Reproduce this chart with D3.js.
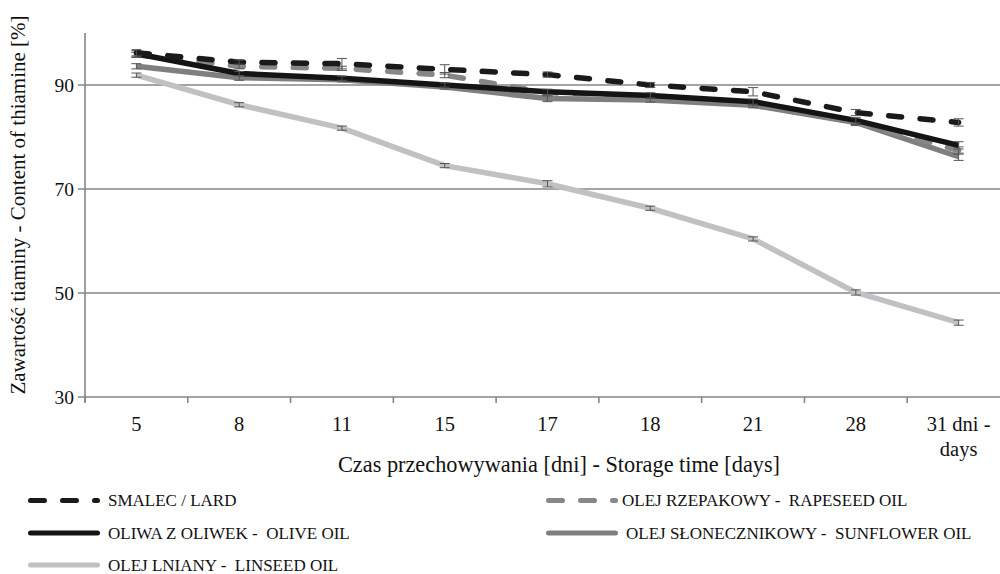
<!DOCTYPE html>
<html><head><meta charset="utf-8">
<script src="https://cdn.jsdelivr.net/npm/d3@7"></script>
<style>
body{margin:0;background:#fff;}
text{font-family:'Liberation Serif','DejaVu Serif',serif;white-space:pre;}
</style></head><body>
<svg id="c" width="1000" height="574"></svg>
<script>
const categories = ["5","8","11","15","17","18","21","28","31 dni -|days"];
const yTicks = [30,50,70,90];
const lard      = [96.2,94.4,94.1,93.0,92.0,90.0,88.7,84.7,82.8];
const lardErr   = [0.6,0.4,1.0,0.9,0.5,0.5,0.8,0.6,0.7];
const rapeseed  = [95.8,93.6,93.2,91.9,88.5,87.9,86.6,82.9,77.4];
const rapeErr   = [0.5,0.5,0.4,0.5,0.6,0.5,0.6,0.5,0.7];
const olive     = [96.0,92.2,91.3,90.0,88.7,88.0,86.8,83.2,78.4];
const oliveErr  = [0.6,0.4,0.4,0.4,0.5,0.5,0.5,0.5,0.7];
const sunflower = [93.6,91.4,91.0,89.6,87.4,87.1,86.1,82.8,76.2];
const sunErr    = [0.5,0.5,0.4,0.4,0.6,0.4,0.5,0.6,0.7];
const linseed   = [91.9,86.2,81.7,74.5,71.0,66.3,60.4,50.1,44.3];
const linErr    = [0.4,0.4,0.4,0.4,0.6,0.4,0.4,0.5,0.5];
const seriesNames = ["SMALEC / LARD","OLEJ RZEPAKOWY -  RAPESEED OIL","OLIWA Z OLIWEK -  OLIVE OIL","OLEJ SŁONECZNIKOWY -  SUNFLOWER OIL","OLEJ LNIANY -  LINSEED OIL"];

const series = [
  {name:seriesNames[4], v:linseed,  e:linErr,   color:"#c1c1c5", dash:null},
  {name:seriesNames[3], v:sunflower,e:sunErr,   color:"#7f7f7f", dash:null},
  {name:seriesNames[1], v:rapeseed, e:rapeErr,  color:"#878787", dash:"13,18.5"},
  {name:seriesNames[2], v:olive,    e:oliveErr, color:"#141414", dash:null},
  {name:seriesNames[0], v:lard,     e:lardErr,  color:"#1a1a1a", dash:"13,18.5"}
];

const svg = d3.select("#c");
const FONT = "'Liberation Serif','DejaVu Serif',serif";
const x = d3.scaleBand().domain(categories).range([85,1010]);
const y = d3.scaleLinear().domain([30,100]).range([397,33]);
const gridColor = "#868686";

svg.append("g").selectAll("line").data(yTicks).join("line")
  .attr("x1",78).attr("x2",1000).attr("y1",d=>y(d)).attr("y2",d=>y(d))
  .attr("stroke",gridColor).attr("stroke-width",1.6);
svg.append("line").attr("x1",85).attr("x2",85).attr("y1",y(100)).attr("y2",402)
  .attr("stroke",gridColor).attr("stroke-width",1.6);
const bounds = categories.map(c=>x(c)).concat([x(categories[categories.length-1])+x.bandwidth()]);
svg.append("g").selectAll("line").data(bounds).join("line")
  .attr("x1",d=>d).attr("x2",d=>d).attr("y1",397).attr("y2",403)
  .attr("stroke",gridColor).attr("stroke-width",1.6);

svg.append("g").selectAll("text").data(yTicks).join("text")
  .attr("font-family",FONT)
  .attr("x",74).attr("y",d=>y(d)).attr("dy","0.35em").attr("text-anchor","end")
  .attr("font-size",19.5).attr("fill","#111").text(d=>d);
const xl = svg.append("g").selectAll("text").data(categories).join("text")
  .attr("font-family",FONT)
  .attr("x",d=>x(d)+x.bandwidth()/2).attr("y",431).attr("text-anchor","middle")
  .attr("font-size",20.5).attr("fill","#111");
xl.each(function(d){
  const parts = d.split("|");
  const t = d3.select(this);
  parts.forEach((p,i)=>t.append("tspan").attr("x",x(d)+x.bandwidth()/2).attr("dy",i?"1.2em":0).text(p));
});

svg.append("text").attr("font-family",FONT).attr("x",559).attr("y",472).attr("text-anchor","middle")
  .attr("font-size",22.3).attr("fill","#111").text("Czas przechowywania [dni] - Storage time [days]");
svg.append("text").attr("font-family",FONT).attr("transform","translate(25,205) rotate(-90)").attr("text-anchor","middle")
  .attr("font-size",21).attr("fill","#111").text("Zawartość tiaminy - Content of thiamine [%]");

const cx = (i)=>x(categories[i])+x.bandwidth()/2;
const line = d3.line().x((d,i)=>cx(i)).y(d=>y(d));

series.forEach(s=>{
  const g = svg.append("g");
  g.append("path").datum(s.v).attr("d",line).attr("fill","none")
    .attr("stroke",s.color).attr("stroke-width",5.5)
    .attr("stroke-linejoin","round")
    .attr("stroke-linecap",s.dash?"round":"butt")
    .attr("stroke-dasharray",s.dash);
  const eb = g.selectAll("g.eb").data(s.v.map((v,i)=>({v,e:s.e[i],i}))).join("g");
  const ec = "#555";
  eb.append("line").attr("x1",d=>cx(d.i)).attr("x2",d=>cx(d.i))
    .attr("y1",d=>y(d.v+d.e)).attr("y2",d=>y(d.v-d.e)).attr("stroke",ec).attr("stroke-width",1);
  eb.append("line").attr("x1",d=>cx(d.i)-5).attr("x2",d=>cx(d.i)+5)
    .attr("y1",d=>y(d.v+d.e)).attr("y2",d=>y(d.v+d.e)).attr("stroke",ec).attr("stroke-width",1);
  eb.append("line").attr("x1",d=>cx(d.i)-5).attr("x2",d=>cx(d.i)+5)
    .attr("y1",d=>y(d.v-d.e)).attr("y2",d=>y(d.v-d.e)).attr("stroke",ec).attr("stroke-width",1);
});

const legendItems = [
  {s:series[4], x:30.5, y:500.5, tx:108},
  {s:series[2], x:548.5, y:500.5, tx:622},
  {s:series[3], x:30.5, y:533, tx:108},
  {s:series[1], x:548.5, y:533, tx:626},
  {s:series[0], x:30.5, y:565, tx:108}
];
const lg = svg.append("g").selectAll("g").data(legendItems).join("g");
lg.append("line").attr("x1",d=>d.x).attr("x2",d=>d.x+67).attr("y1",d=>d.y).attr("y2",d=>d.y)
  .attr("stroke",d=>d.s.color).attr("stroke-width",5).attr("stroke-linecap","round")
  .attr("stroke-dasharray",d=>d.s.dash?"14,18":null);
lg.append("text").attr("font-family",FONT).attr("x",d=>d.tx).attr("y",d=>d.y).attr("dy","0.33em")
  .attr("font-size",17).attr("fill","#111").attr("xml:space","preserve").text(d=>d.s.name);
</script>
</body></html>
